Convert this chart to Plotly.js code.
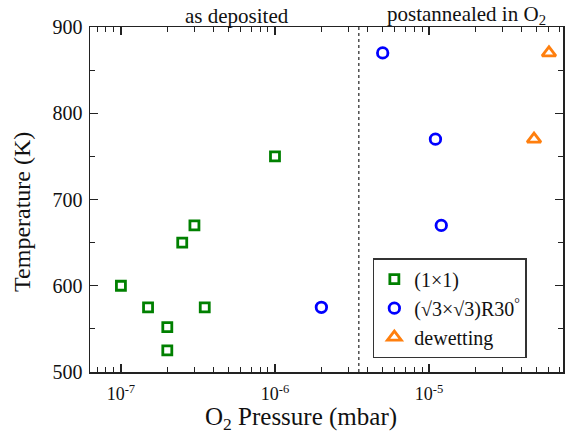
<!DOCTYPE html>
<html>
<head>
<meta charset="utf-8">
<script src="https://cdn.plot.ly/plotly-3.0.1.min.js"></script>
<style>html,body{margin:0;padding:0;background:#fff;}#chart{width:566px;height:435px;}</style>
</head>
<body>
<div id="chart"></div>
<script>
// Data
const sq_pressure = [1e-7, 1.5e-7, 2e-7, 2e-7, 2.5e-7, 3e-7, 3.5e-7, 1e-6];
const sq_temp     = [600, 575, 552, 525, 650, 670, 575, 750];
const ci_pressure = [2e-6, 5e-6, 1.1e-5, 1.2e-5];
const ci_temp     = [575, 870, 770, 670];
const tr_pressure = [6e-5, 4.8e-5];
const tr_temp     = [870, 770];
const series_names = ['(1×1)', '(√3×√3)R30<sup>°</sup>', 'dewetting'];
const divider_pressure = 3.5e-6;
const x_tick_vals = [1e-7, 1e-6, 1e-5];
const x_tick_text = ['10<sup>-7</sup>', '10<sup>-6</sup>', '10<sup>-5</sup>'];
const y_tick_vals = [500, 600, 700, 800, 900];
const x_title = 'O<sub>2</sub> Pressure (mbar)';
const y_title = 'Temperature (K)';
const region_labels = ['as deposited', 'postannealed in O<sub>2</sub>'];

const minorX = [];
for (let e = -8; e <= -5; e++) {
  for (let m = 2; m <= 9; m++) minorX.push(m * Math.pow(10, e));
}

const font = 'Liberation Serif, Times New Roman, serif';
const traces = [
  {x: sq_pressure, y: sq_temp, type: 'scatter', mode: 'markers', name: series_names[0],
   marker: {symbol: 'square-open', size: 9, color: '#008000', line: {width: 2.8, color: '#008000'}}},
  {x: ci_pressure, y: ci_temp, type: 'scatter', mode: 'markers', name: series_names[1],
   marker: {symbol: 'circle-open', size: 10.5, color: '#0000ff', line: {width: 2.8, color: '#0000ff'}}},
  {x: tr_pressure, y: tr_temp, type: 'scatter', mode: 'markers', name: series_names[2],
   marker: {symbol: 'triangle-up-open', size: 12, color: '#ff7f0e', line: {width: 2.8, color: '#ff7f0e'}}}
];

const axisCommon = {
  showline: true, linecolor: '#222', linewidth: 1.5, mirror: 'allticks',
  ticks: 'inside', ticklen: 8, tickwidth: 1.2, tickcolor: '#222',
  showgrid: false, zeroline: false
};

const layout = {
  width: 566, height: 435,
  margin: {l: 90, r: 3, t: 27, b: 63},
  paper_bgcolor: '#fff', plot_bgcolor: '#fff',
  font: {family: font, color: '#111'},
  showlegend: true,
  legend: {x: 0.598, y: 0.33, xanchor: 'left', yanchor: 'top',
           bgcolor: '#fff', bordercolor: '#333', borderwidth: 1.5,
           font: {family: font, size: 20, color: '#111'}, tracegroupgap: 0},
  xaxis: Object.assign({}, axisCommon, {
    type: 'log', range: [Math.log10(6.3e-8), Math.log10(7.4e-5)],
    tickvals: x_tick_vals, ticktext: x_tick_text,
    tickfont: {family: font, size: 18, color: '#111'}, ticklabelstandoff: 5,
    minor: {tickvals: minorX, ticks: 'inside', ticklen: 5, tickwidth: 1, tickcolor: '#222'}
  }),
  yaxis: Object.assign({}, axisCommon, {
    range: [500, 900], tickvals: y_tick_vals,
    tickfont: {family: font, size: 20, color: '#111'}, ticklabelstandoff: 2,
    minor: {dtick: 50, ticks: 'inside', ticklen: 5, tickwidth: 1, tickcolor: '#222'}
  }),
  shapes: [{type: 'line', xref: 'x', yref: 'paper', x0: divider_pressure, x1: divider_pressure, y0: 0, y1: 1,
            line: {color: '#333', width: 1.3, dash: 'dot'}}],
  annotations: [
    {text: region_labels[0], xref: 'paper', yref: 'paper', x: 0.311, y: 1, xanchor: 'center', yanchor: 'bottom', showarrow: false,
     font: {family: font, size: 21, color: '#111'}, yshift: -3},
    {text: region_labels[1], xref: 'paper', yref: 'paper', x: 0.795, y: 1, xanchor: 'center', yanchor: 'bottom', showarrow: false,
     font: {family: font, size: 21, color: '#111'}, yshift: -3},
    {text: x_title, xref: 'paper', yref: 'paper', x: 0.446, y: -0.136, xanchor: 'center', yanchor: 'middle', showarrow: false,
     font: {family: font, size: 25, color: '#111'}},
    {text: y_title, xref: 'paper', yref: 'paper', x: -0.1438, y: 0.464, xanchor: 'center', yanchor: 'middle', showarrow: false,
     textangle: -90, font: {family: font, size: 24, color: '#111'}}
  ]
};

Plotly.newPlot('chart', traces, layout, {staticPlot: true, displayModeBar: false});
</script>
</body>
</html>
